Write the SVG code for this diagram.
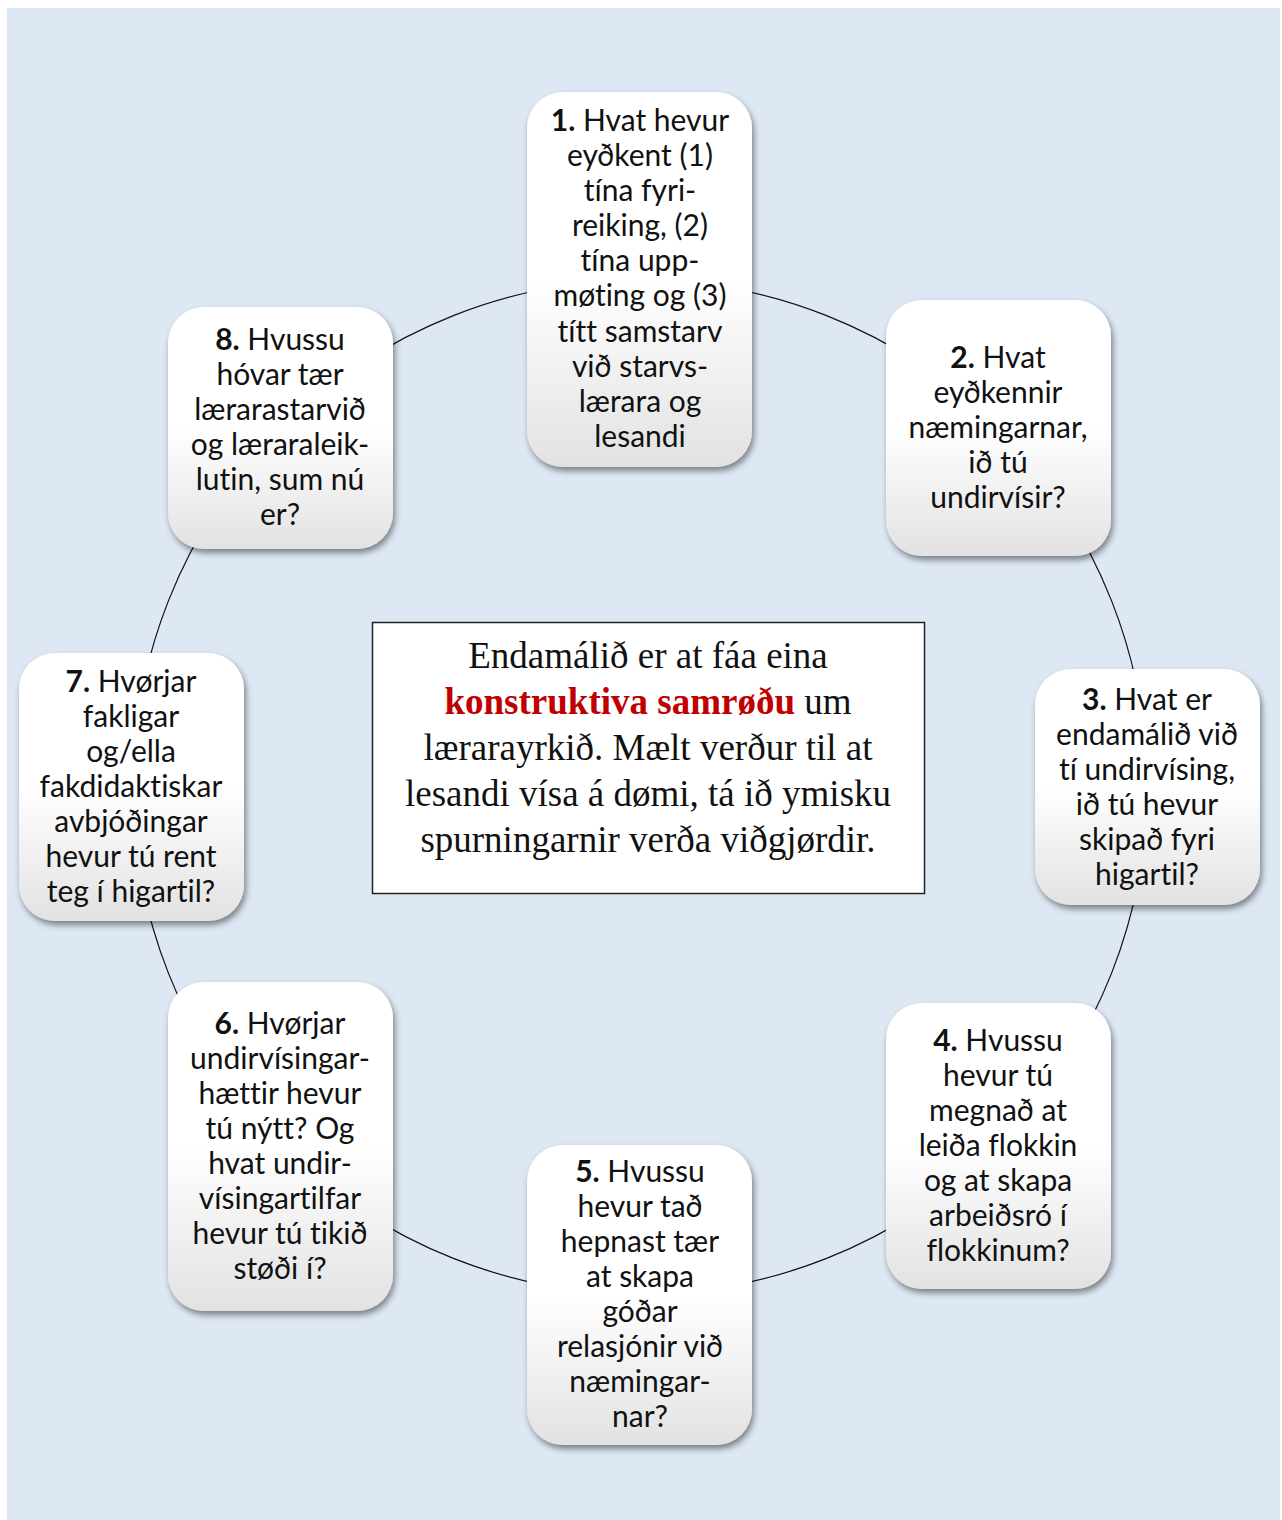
<svg xmlns="http://www.w3.org/2000/svg" width="1282" height="1520" viewBox="0 0 1282 1520">
<defs>
<linearGradient id="ng" x1="0" y1="0" x2="0" y2="1">
<stop offset="0" stop-color="#ffffff"/>
<stop offset="0.5" stop-color="#ffffff"/>
<stop offset="1" stop-color="#e2e2e2"/>
</linearGradient>
<filter id="sh" x="-20%" y="-20%" width="140%" height="140%">
<feDropShadow dx="2" dy="4" stdDeviation="3" flood-color="#000" flood-opacity="0.45"/>
</filter>
</defs>
<style>
.node rect{fill:url(#ng);filter:url(#sh);}
.node text{font-family:Lato,"Liberation Sans",sans-serif;font-size:30px;fill:#111;text-anchor:middle;font-variant-ligatures:none;}
.b{font-weight:bold;}
.center text{font-family:"Liberation Serif","Times New Roman",serif;font-size:37px;fill:#111;text-anchor:middle;}
.red{fill:#c00000;font-weight:bold;}
</style>
<rect x="7" y="8" width="1273" height="1512" fill="#dde8f4"/>
<g id="connectors">
<circle cx="640" cy="787" r="507" fill="none" stroke="#111" stroke-width="1.2"/>
</g>
<g id="center" class="center">
<rect x="372.5" y="622.5" width="552" height="271" fill="#fff" stroke="#222" stroke-width="1.5"/>
<text x="648" y="668">Endamálið er at fáa eina</text>
<text x="648" y="714"><tspan class="red">konstruktiva samrøðu</tspan> um</text>
<text x="648" y="760">lærarayrkið. Mælt verður til at</text>
<text x="648" y="806">lesandi vísa á dømi, tá ið ymisku</text>
<text x="648" y="852">spurningarnir verða viðgjørdir.</text>
</g>
<g id="node1" class="node">
<rect x="527" y="92" width="225" height="375" rx="36"/>
<text x="640" y="131"><tspan class="b">1.</tspan> Hvat hevur</text>
<text x="640" y="166">eyðkent (1)</text>
<text x="640" y="201">tína fyri-</text>
<text x="640" y="236">reiking, (2)</text>
<text x="640" y="271">tína upp-</text>
<text x="640" y="306">møting og (3)</text>
<text x="640" y="342">títt samstarv</text>
<text x="640" y="377">við starvs-</text>
<text x="640" y="412">lærara og</text>
<text x="640" y="447">lesandi</text>
</g>
<g id="node2" class="node">
<rect x="886" y="300" width="225" height="256" rx="36"/>
<text x="998" y="368"><tspan class="b">2.</tspan> Hvat</text>
<text x="998" y="403">eyðkennir</text>
<text x="998" y="438">næmingarnar,</text>
<text x="998" y="473">ið tú</text>
<text x="998" y="508">undirvísir?</text>
</g>
<g id="node3" class="node">
<rect x="1035" y="669" width="225" height="236" rx="36"/>
<text x="1147" y="710"><tspan class="b">3.</tspan> Hvat er</text>
<text x="1147" y="745">endamálið við</text>
<text x="1147" y="780">tí undirvísing,</text>
<text x="1147" y="815">ið tú hevur</text>
<text x="1147" y="850">skipað fyri</text>
<text x="1147" y="885">higartil?</text>
</g>
<g id="node4" class="node">
<rect x="886" y="1003" width="225" height="286" rx="36"/>
<text x="998" y="1051"><tspan class="b">4.</tspan> Hvussu</text>
<text x="998" y="1086">hevur tú</text>
<text x="998" y="1121">megnað at</text>
<text x="998" y="1156">leiða flokkin</text>
<text x="998" y="1191">og at skapa</text>
<text x="998" y="1226">arbeiðsró í</text>
<text x="998" y="1261">flokkinum?</text>
</g>
<g id="node5" class="node">
<rect x="527" y="1145" width="225" height="300" rx="36"/>
<text x="640" y="1182"><tspan class="b">5.</tspan> Hvussu</text>
<text x="640" y="1217">hevur tað</text>
<text x="640" y="1252">hepnast tær</text>
<text x="640" y="1287">at skapa</text>
<text x="640" y="1322">góðar</text>
<text x="640" y="1357">relasjónir við</text>
<text x="640" y="1392">næmingar-</text>
<text x="640" y="1427">nar?</text>
</g>
<g id="node6" class="node">
<rect x="168" y="982" width="225" height="329" rx="36"/>
<text x="280" y="1034"><tspan class="b">6.</tspan> Hvørjar</text>
<text x="280" y="1069">undirvísingar-</text>
<text x="280" y="1104">hættir hevur</text>
<text x="280" y="1139">tú nýtt? Og</text>
<text x="280" y="1174">hvat undir-</text>
<text x="280" y="1209">vísingartilfar</text>
<text x="280" y="1244">hevur tú tikið</text>
<text x="280" y="1279">støði í?</text>
</g>
<g id="node7" class="node">
<rect x="19" y="653" width="225" height="268" rx="36"/>
<text x="131" y="692"><tspan class="b">7.</tspan> Hvørjar</text>
<text x="131" y="727">fakligar</text>
<text x="131" y="762">og/ella</text>
<text x="131" y="797">fakdidaktiskar</text>
<text x="131" y="832">avbjóðingar</text>
<text x="131" y="867">hevur tú rent</text>
<text x="131" y="902">teg í higartil?</text>
</g>
<g id="node8" class="node">
<rect x="168" y="307" width="225" height="242" rx="36"/>
<text x="280" y="350"><tspan class="b">8.</tspan> Hvussu</text>
<text x="280" y="385">hóvar tær</text>
<text x="280" y="420">lærarastarvið</text>
<text x="280" y="455">og læraraleik-</text>
<text x="280" y="490">lutin, sum nú</text>
<text x="280" y="525">er?</text>
</g>
</svg>
